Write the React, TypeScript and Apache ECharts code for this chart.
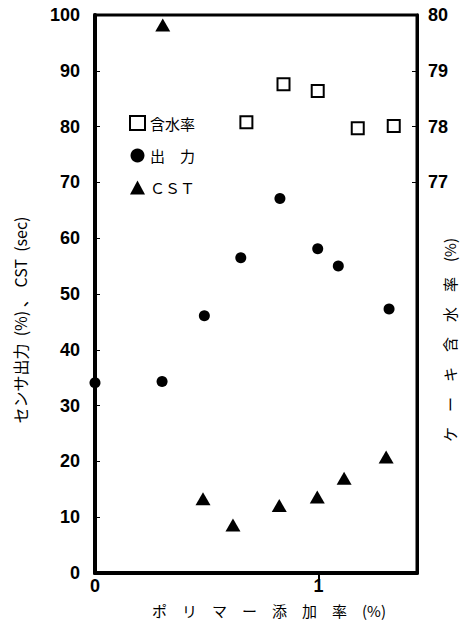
import React, { useEffect, useRef } from "react";
import * as echarts from "echarts";

// ポリマー添加率 (%)
const moistureX = [0.677, 0.843, 0.996, 1.175, 1.336];
const moistureY = [78.08, 78.76, 78.64, 77.97, 78.01];

const outputX = [0.0, 0.3, 0.489, 0.652, 0.827, 0.996, 1.088, 1.315];
const outputY = [34.1, 34.3, 46.1, 56.5, 67.1, 58.1, 55.0, 47.3];

const cstX = [0.303, 0.483, 0.617, 0.824, 0.994, 1.114, 1.302];
const cstY = [98.2, 13.3, 8.6, 12.1, 13.6, 17.0, 20.8];

const leftTicks = [0, 10, 20, 30, 40, 50, 60, 70, 80, 90, 100];
const rightTicks = [77, 78, 79, 80];
const xTickLabels = [0, 1];

const seriesNames = ["含水率", "出　力", "ＣＳＴ"];

const zip = (xs: number[], ys: number[]) => xs.map((x, i) => [x, ys[i]]);

export default function App() {
  const ref = useRef<HTMLDivElement>(null);
  useEffect(() => {
    if (!ref.current) return;
    const chart = echarts.init(ref.current, null, { renderer: "svg" });
    const tickFont = {
      fontFamily: "Liberation Sans",
      fontWeight: "bold" as const,
      fontSize: 18,
      color: "#000",
    };
    chart.setOption({
      animation: false,
      backgroundColor: "#fff",
      grid: {
        left: 95,
        right: 53,
        top: 15,
        bottom: 49,
        show: true,
        borderColor: "#000",
        borderWidth: 3,
      },
      legend: {
        orient: "vertical",
        left: 124,
        top: 110,
        itemWidth: 15,
        itemHeight: 14,
        itemGap: 17,
        data: seriesNames,
        textStyle: { fontFamily: "Noto Sans CJK JP", fontSize: 15, color: "#000" },
      },
      xAxis: {
        type: "value",
        min: 0,
        max: 1.44,
        splitLine: { show: false },
        axisLine: { show: true, lineStyle: { color: "#000", width: 4 } },
        axisTick: {
          show: true,
          customValues: [1],
          length: 7,
          lineStyle: { color: "#000", width: 2 },
        },
        axisLabel: {
          customValues: xTickLabels,
          margin: 4,
          ...tickFont,
        },
      },
      yAxis: [
        {
          type: "value",
          min: 0,
          max: 100,
          interval: 10,
          position: "left",
          splitLine: { show: false },
          axisLine: { show: true, lineStyle: { color: "#000", width: 4 } },
          axisTick: { show: true, inside: true, length: 5, lineStyle: { color: "#000", width: 1 } },
          axisLabel: { customValues: leftTicks, margin: 15, ...tickFont },
        },
        {
          type: "value",
          min: 70,
          max: 80,
          interval: 1,
          position: "right",
          splitLine: { show: false },
          axisLine: { show: true, lineStyle: { color: "#000", width: 3 } },
          axisTick: {
            show: true,
            inside: true,
            customValues: rightTicks,
            length: 5,
            lineStyle: { color: "#000", width: 1 },
          },
          axisLabel: { customValues: rightTicks, margin: 11, ...tickFont },
        },
      ],
      series: [
        {
          name: seriesNames[0],
          type: "scatter",
          yAxisIndex: 1,
          symbol: "rect",
          symbolSize: 12,
          itemStyle: { color: "#fff", borderColor: "#000", borderWidth: 2, opacity: 1 },
          data: zip(moistureX, moistureY),
        },
        {
          name: seriesNames[1],
          type: "scatter",
          yAxisIndex: 0,
          symbol: "circle",
          symbolSize: 11,
          itemStyle: { color: "#000", opacity: 1 },
          data: zip(outputX, outputY),
        },
        {
          name: seriesNames[2],
          type: "scatter",
          yAxisIndex: 0,
          symbol: "triangle",
          symbolSize: [15, 13],
          itemStyle: { color: "#000", opacity: 1 },
          data: zip(cstX, cstY),
        },
      ],
      graphic: [
        {
          type: "text",
          x: 20,
          y: 320,
          rotation: Math.PI / 2,
          style: {
            text: "センサ出力  (%) 、 CST  (sec)",
            fontFamily: "Noto Sans CJK JP",
            fontSize: 16,
            fill: "#000",
            align: "center",
            verticalAlign: "middle",
          },
        },
        {
          type: "text",
          x: 449,
          y: 340,
          rotation: Math.PI / 2,
          style: {
            text: "ケ　ー　キ　含　水　率　(%)",
            fontFamily: "Noto Sans CJK JP",
            fontSize: 15,
            fill: "#000",
            align: "center",
            verticalAlign: "middle",
          },
        },
        {
          type: "text",
          x: 269,
          y: 610,
          style: {
            text: "ポ　リ　マ　ー　添　加　率　(%)",
            fontFamily: "Noto Sans CJK JP",
            fontSize: 15,
            fill: "#000",
            align: "center",
            verticalAlign: "middle",
          },
        },
      ],
    });
    return () => chart.dispose();
  }, []);
  return (
    <div
      ref={ref}
      style={{ position: "fixed", left: 0, top: 0, width: 470, height: 622 }}
    />
  );
}
